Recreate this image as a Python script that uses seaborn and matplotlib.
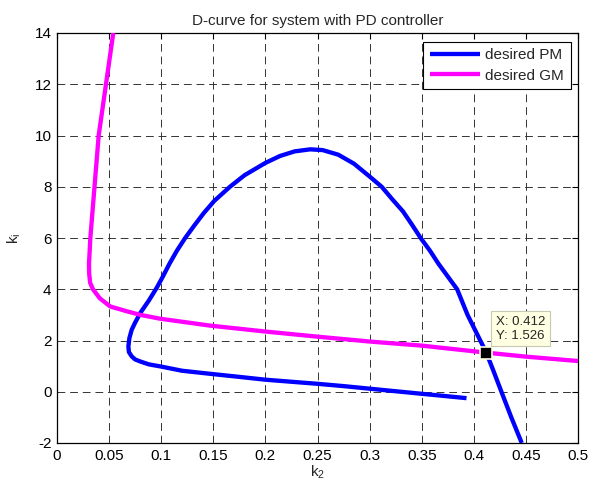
import matplotlib
matplotlib.use("Agg")
import matplotlib.pyplot as plt
import seaborn as sns
import pandas as pd

# D-curve for the desired phase margin (k2, ki pairs along the boundary)
pm_k2 = [0.393, 0.368, 0.350, 0.325, 0.300, 0.275, 0.250, 0.225, 0.200, 0.175,
         0.147, 0.120, 0.099, 0.088, 0.080, 0.075, 0.0717, 0.069, 0.0685, 0.0695,
         0.0717, 0.075, 0.080, 0.088, 0.0956, 0.101, 0.108, 0.115, 0.123, 0.132,
         0.141, 0.151, 0.166, 0.180, 0.200, 0.214, 0.228, 0.243, 0.255, 0.270,
         0.285, 0.300, 0.3116, 0.322, 0.332, 0.341, 0.349, 0.358, 0.366, 0.375,
         0.384, 0.394, 0.412, 0.419, 0.4265, 0.436, 0.446]
pm_ki = [-0.25, -0.15, -0.08, 0.02, 0.12, 0.22, 0.31, 0.39, 0.47, 0.58,
         0.70, 0.82, 0.99, 1.07, 1.18, 1.26, 1.38, 1.55, 1.77, 2.10,
         2.42, 2.70, 3.08, 3.55, 4.05, 4.45, 5.00, 5.50, 6.00, 6.50,
         6.98, 7.45, 8.00, 8.45, 8.93, 9.20, 9.38, 9.46, 9.43, 9.25,
         8.90, 8.40, 8.00, 7.50, 7.04, 6.50, 6.00, 5.50, 5.00, 4.50,
         4.00, 3.00, 1.526, 0.80, 0.00, -1.00, -2.00]

# D-curve for the desired gain margin
gm_k2 = [0.054, 0.047, 0.040, 0.036, 0.032, 0.0307, 0.0309, 0.0318, 0.0345, 0.041,
         0.051, 0.067, 0.080, 0.099, 0.147, 0.200, 0.250, 0.300, 0.350, 0.412,
         0.450, 0.500]
gm_ki = [14.0, 12.0, 10.0, 8.0, 6.0, 5.0, 4.6, 4.25, 4.0, 3.65,
         3.33, 3.14, 3.00, 2.85, 2.58, 2.35, 2.15, 1.96, 1.80, 1.526,
         1.37, 1.20]

# Intersection point of the two curves
tip_k2 = 0.412
tip_ki = 1.526

x_ticks = [0, 0.05, 0.1, 0.15, 0.2, 0.25, 0.3, 0.35, 0.4, 0.45, 0.5]
x_tick_labels = ["0", "0.05", "0.1", "0.15", "0.2", "0.25", "0.3", "0.35", "0.4", "0.45", "0.5"]
y_ticks = [-2, 0, 2, 4, 6, 8, 10, 12, 14]
y_tick_labels = ["-2", "0", "2", "4", "6", "8", "10", "12", "14"]

sns.set_style("white")
plt.rcParams["font.family"] = ["Liberation Sans", "DejaVu Sans"]
plt.rcParams["mathtext.default"] = "regular"

df_pm = pd.DataFrame({"k2": pm_k2, "ki": pm_ki})
df_gm = pd.DataFrame({"k2": gm_k2, "ki": gm_ki})

fig = plt.figure(figsize=(5.89, 4.88), dpi=100)
fig.patch.set_facecolor("white")
ax = fig.add_axes([57 / 589, 45 / 488, 521 / 589, 410 / 488])

sns.lineplot(data=df_pm, x="k2", y="ki", sort=False, estimator=None,
             color="#0000ff", linewidth=3.1, label="desired PM", ax=ax, zorder=3)
sns.lineplot(data=df_gm, x="k2", y="ki", sort=False, estimator=None,
             color="#ff00ff", linewidth=3.1, label="desired GM", ax=ax, zorder=3)
for ln in ax.get_lines():
    ln.set_solid_joinstyle("round")
    ln.set_solid_capstyle("butt")

ax.set_xlim(0, 0.5)
ax.set_ylim(-2, 14)
ax.set_xticks(x_ticks)
ax.set_xticklabels(x_tick_labels)
ax.set_yticks(y_ticks)
ax.set_yticklabels(y_tick_labels)
ax.tick_params(direction="in", top=True, right=True, length=4, width=0.8,
               labelsize=11, colors="black", pad=4)
ax.grid(True, color="#333333", linestyle=(0, (8, 5)), linewidth=0.7)
for sp in ax.spines.values():
    sp.set_color("black")
    sp.set_linewidth(0.9)

ax.set_title("D-curve for system with PD controller", fontsize=11, pad=6)
ax.set_xlabel("k$_2$", fontsize=11, labelpad=1)
ax.set_ylabel("k$_i$", fontsize=11, labelpad=8)

leg = ax.legend(loc="upper right", fontsize=11, handlelength=3.3,
                frameon=True, fancybox=False, framealpha=1,
                borderpad=0.45, labelspacing=0.4, handletextpad=0.3,
                borderaxespad=0, bbox_to_anchor=(0.986, 0.979))
leg.get_frame().set_edgecolor("black")
leg.get_frame().set_linewidth(0.8)

# Data tip at the intersection
ax.plot([tip_k2], [tip_ki], marker="s", markersize=8, color="black",
        markeredgecolor="#ffffe1", markeredgewidth=1.2, zorder=5)
ax.annotate(f"X: {tip_k2}\nY: {tip_ki}", xy=(tip_k2, tip_ki),
            xytext=(7, 8), textcoords="offset points", fontsize=9.5,
            va="bottom", ha="left", linespacing=1.2,
            bbox=dict(boxstyle="square,pad=0.35", facecolor="#ffffe1",
                      edgecolor="#c8c8b4", linewidth=0.8),
            zorder=6)

fig.savefig("out.png", dpi=100, facecolor="white")
